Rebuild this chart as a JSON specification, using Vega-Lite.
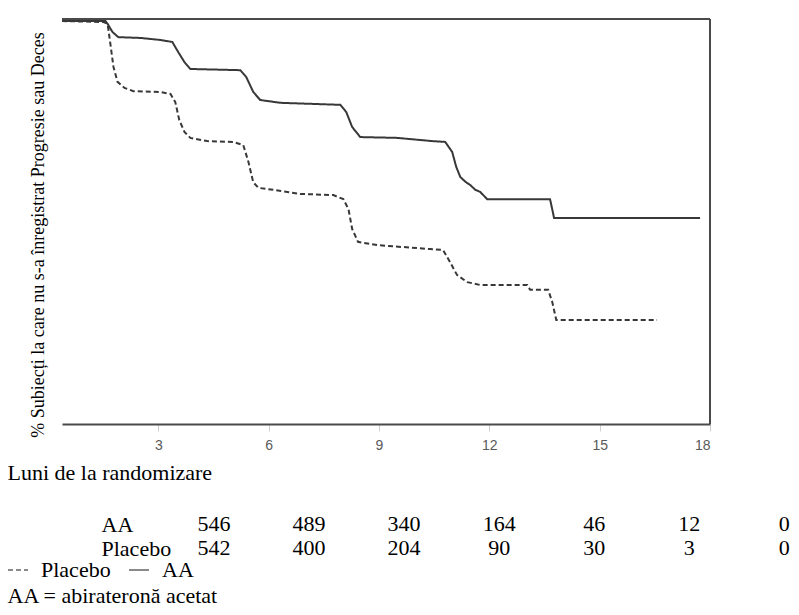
{
  "$schema": "https://vega.github.io/schema/vega-lite/v6.json",
  "background": "white",
  "padding": {"left": 7, "top": 17, "right": 0, "bottom": 0},
  "config": {"view": {"stroke": null}, "font": "'Liberation Serif', 'Times New Roman', serif"},
  "datasets": {
    "curves": [
      {"arm": "AA", "m": 0.38, "s": 100},
      {"arm": "AA", "m": 1.56, "s": 100},
      {"arm": "AA", "m": 1.62, "s": 99.3},
      {"arm": "AA", "m": 1.75, "s": 97.3},
      {"arm": "AA", "m": 1.91, "s": 96.0},
      {"arm": "AA", "m": 2.51, "s": 95.8},
      {"arm": "AA", "m": 3.05, "s": 95.3},
      {"arm": "AA", "m": 3.38, "s": 94.8},
      {"arm": "AA", "m": 3.54, "s": 92.3},
      {"arm": "AA", "m": 3.71, "s": 89.8},
      {"arm": "AA", "m": 3.87, "s": 88.1},
      {"arm": "AA", "m": 5.23, "s": 87.8},
      {"arm": "AA", "m": 5.39, "s": 86.1},
      {"arm": "AA", "m": 5.58, "s": 82.4},
      {"arm": "AA", "m": 5.77, "s": 80.4},
      {"arm": "AA", "m": 6.32, "s": 79.7},
      {"arm": "AA", "m": 7.95, "s": 79.2},
      {"arm": "AA", "m": 8.11, "s": 77.4},
      {"arm": "AA", "m": 8.27, "s": 73.7},
      {"arm": "AA", "m": 8.49, "s": 71.2},
      {"arm": "AA", "m": 9.49, "s": 71.0},
      {"arm": "AA", "m": 10.45, "s": 70.2},
      {"arm": "AA", "m": 10.8, "s": 70.0},
      {"arm": "AA", "m": 10.99, "s": 67.5},
      {"arm": "AA", "m": 11.1, "s": 63.8},
      {"arm": "AA", "m": 11.21, "s": 61.3},
      {"arm": "AA", "m": 11.35, "s": 60.1},
      {"arm": "AA", "m": 11.48, "s": 59.3},
      {"arm": "AA", "m": 11.62, "s": 58.1},
      {"arm": "AA", "m": 11.75, "s": 57.6},
      {"arm": "AA", "m": 11.94, "s": 55.8},
      {"arm": "AA", "m": 13.65, "s": 55.8},
      {"arm": "AA", "m": 13.71, "s": 53.3},
      {"arm": "AA", "m": 13.76, "s": 51.1},
      {"arm": "AA", "m": 17.73, "s": 51.1},
      {"arm": "Placebo", "m": 0.38, "s": 100},
      {"arm": "Placebo", "m": 1.51, "s": 99.75},
      {"arm": "Placebo", "m": 1.62, "s": 99.3},
      {"arm": "Placebo", "m": 1.7, "s": 94.0},
      {"arm": "Placebo", "m": 1.78, "s": 88.6},
      {"arm": "Placebo", "m": 1.89, "s": 84.9},
      {"arm": "Placebo", "m": 2.08, "s": 83.4},
      {"arm": "Placebo", "m": 2.32, "s": 82.6},
      {"arm": "Placebo", "m": 3.05, "s": 82.4},
      {"arm": "Placebo", "m": 3.33, "s": 81.9},
      {"arm": "Placebo", "m": 3.46, "s": 79.9},
      {"arm": "Placebo", "m": 3.57, "s": 75.4},
      {"arm": "Placebo", "m": 3.71, "s": 72.5},
      {"arm": "Placebo", "m": 3.87, "s": 71.0},
      {"arm": "Placebo", "m": 4.33, "s": 70.2},
      {"arm": "Placebo", "m": 5.04, "s": 70.0},
      {"arm": "Placebo", "m": 5.31, "s": 69.2},
      {"arm": "Placebo", "m": 5.45, "s": 65.0},
      {"arm": "Placebo", "m": 5.58, "s": 60.0},
      {"arm": "Placebo", "m": 5.72, "s": 58.6},
      {"arm": "Placebo", "m": 6.13, "s": 58.1},
      {"arm": "Placebo", "m": 6.86, "s": 57.1},
      {"arm": "Placebo", "m": 7.76, "s": 56.8},
      {"arm": "Placebo", "m": 8.03, "s": 55.8},
      {"arm": "Placebo", "m": 8.17, "s": 53.3},
      {"arm": "Placebo", "m": 8.27, "s": 48.4},
      {"arm": "Placebo", "m": 8.43, "s": 45.2},
      {"arm": "Placebo", "m": 8.95, "s": 44.4},
      {"arm": "Placebo", "m": 10.39, "s": 43.4},
      {"arm": "Placebo", "m": 10.74, "s": 43.2},
      {"arm": "Placebo", "m": 10.93, "s": 40.2},
      {"arm": "Placebo", "m": 11.12, "s": 37.0},
      {"arm": "Placebo", "m": 11.4, "s": 35.2},
      {"arm": "Placebo", "m": 11.75, "s": 34.5},
      {"arm": "Placebo", "m": 13.03, "s": 34.5},
      {"arm": "Placebo", "m": 13.11, "s": 33.3},
      {"arm": "Placebo", "m": 13.6, "s": 33.3},
      {"arm": "Placebo", "m": 13.71, "s": 30.3},
      {"arm": "Placebo", "m": 13.82, "s": 25.8},
      {"arm": "Placebo", "m": 16.56, "s": 25.8}
    ],
    "risk": [
      {"arm": "AA", "month": 0, "n": 546},
      {"arm": "AA", "month": 3, "n": 489},
      {"arm": "AA", "month": 6, "n": 340},
      {"arm": "AA", "month": 9, "n": 164},
      {"arm": "AA", "month": 12, "n": 46},
      {"arm": "AA", "month": 15, "n": 12},
      {"arm": "AA", "month": 18, "n": 0},
      {"arm": "Placebo", "month": 0, "n": 542},
      {"arm": "Placebo", "month": 3, "n": 400},
      {"arm": "Placebo", "month": 6, "n": 204},
      {"arm": "Placebo", "month": 9, "n": 90},
      {"arm": "Placebo", "month": 12, "n": 30},
      {"arm": "Placebo", "month": 15, "n": 3},
      {"arm": "Placebo", "month": 18, "n": 0}
    ]
  },
  "bounds": "flush",
  "spacing": 88,
  "vconcat": [
    {
      "width": 648,
      "height": 405,
      "layer": [
        {
          "data": {"name": "curves"},
          "mark": {"type": "line", "stroke": "#383838", "strokeWidth": 2},
          "encoding": {
            "x": {
              "field": "m", "type": "quantitative",
              "scale": {"domain": [0.38, 18], "nice": false, "zero": false},
              "axis": {
                "orient": "bottom", "values": [3, 6, 9, 12, 15, 18], "grid": false,
                "domainColor": "#4a4a4a", "domainWidth": 2,
                "tickColor": "#cfcfcf", "tickSize": 7, "tickWidth": 1,
                "labelFont": "Liberation Sans", "labelFontSize": 14, "labelColor": "#5a5a5a", "labelPadding": 7,
                "title": "Luni de la randomizare", "titleFont": "'Liberation Serif', 'Times New Roman', serif", "titleFontSize": 22,
                "titleFontWeight": "normal", "titleColor": "#000000",
                "titleX": -55, "titleY": 48, "titleAlign": "left", "titleBaseline": "middle"
              }
            },
            "y": {
              "field": "s", "type": "quantitative",
              "scale": {"domain": [0, 100.5], "nice": false},
              "axis": {
                "orient": "left", "domain": false, "ticks": false, "labels": false, "grid": false,
                "title": "% Subiecți la care nu s-a înregistrat Progresie sau Deces",
                "titleFont": "'Liberation Serif', 'Times New Roman', serif", "titleFontSize": 18, "titleFontWeight": "normal",
                "titleColor": "#000000", "titleAngle": 270, "titleX": -24, "titleY": 215.5,
                "titleAlign": "center", "titleBaseline": "middle"
              }
            },
            "strokeDash": {
              "field": "arm", "type": "nominal",
              "scale": {"domain": ["Placebo", "AA"], "range": [[5, 3], [1, 0]]},
              "legend": {
                "orient": "none", "legendX": -55, "legendY": 540, "direction": "horizontal",
                "title": null, "symbolType": "stroke", "symbolSize": 400, "symbolStrokeWidth": 2,
                "symbolStrokeColor": "#8a8a8a",
                "labelFont": "'Liberation Serif', 'Times New Roman', serif", "labelFontSize": 22, "labelColor": "#000000",
                "labelOffset": 12, "columnPadding": 14
              }
            }
          }
        },
        {
          "data": {"values": [{}]},
          "mark": {"type": "rule", "stroke": "#4a4a4a", "strokeWidth": 2},
          "encoding": {"y": {"datum": 100.5}}
        },
        {
          "data": {"values": [{}]},
          "mark": {"type": "rule", "stroke": "#4a4a4a", "strokeWidth": 2},
          "encoding": {"x": {"datum": 18}}
        }
      ]
    },
    {
      "width": 720,
      "height": 48,
      "data": {"name": "risk"},
      "mark": {"type": "text", "font": "'Liberation Serif', 'Times New Roman', serif", "fontSize": 22, "color": "#000000", "baseline": "middle"},
      "encoding": {
        "x": {
          "field": "month", "type": "quantitative",
          "scale": {"domain": [-4.8, 17.93], "nice": false, "zero": false},
          "axis": {
            "labels": false, "ticks": false, "domain": false, "grid": false,
            "title": "AA = abirateronă acetat", "titleFont": "'Liberation Serif', 'Times New Roman', serif", "titleFontSize": 22,
            "titleFontWeight": "normal", "titleColor": "#000000",
            "titleX": -55, "titleY": 35, "titleAlign": "left", "titleBaseline": "middle"
          }
        },
        "y": {
          "field": "arm", "type": "nominal",
          "scale": {"domain": ["AA", "Placebo"]},
          "axis": {
            "domain": false, "ticks": false, "grid": false, "title": null,
            "labelAlign": "left", "labelPadding": -39, "labelFont": "'Liberation Serif', 'Times New Roman', serif",
            "labelFontSize": 22, "labelColor": "#000000", "labelBaseline": "middle"
          }
        },
        "text": {"field": "n", "type": "quantitative"}
      }
    }
  ]
}
